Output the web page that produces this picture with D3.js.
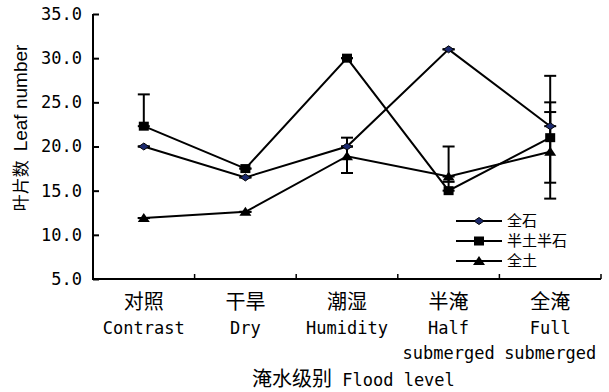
<!DOCTYPE html>
<html>
<head>
<meta charset="utf-8">
<script src="https://cdn.jsdelivr.net/npm/d3@7"></script>
<style>
  body { margin: 0; background: #fff; }
</style>
</head>
<body>
<div id="viz"></div>
<script>
// data
var categories = ['对照', '干旱', '潮湿', '半淹', '全淹'];
var categoriesEn = [['Contrast'], ['Dry'], ['Humidity'], ['Half', 'submerged'], ['Full', 'submerged']];
var seriesNames = ['全石', '半土半石', '全土'];
var quanShi = [20.0, 16.5, 20.0, 31.0, 22.3];
var banTuBanShi = [22.3, 17.5, 30.0, 15.0, 21.0];
var quanTu = [11.9, 12.6, 18.9, 16.6, 19.4];
// error bar ends (null = no bar on that side)
var quanShiHi = [null, null, null, null, 23.9];
var quanShiLo = [null, null, null, null, null];
var banTuBanShiHi = [25.9, null, null, 20.0, 28.0];
var banTuBanShiLo = [null, null, null, null, 14.1];
var quanTuHi = [null, null, 21.0, null, 25.0];
var quanTuLo = [null, null, 17.0, 16.0, 15.9];
var yTicks = [5, 10, 15, 20, 25, 30, 35];

var width = 609, height = 392,
  margin = { top: 14, right: 8, bottom: 113, left: 93 };

var cjk = '"Noto Sans CJK SC", sans-serif',
  mono = '"DejaVu Sans Mono", monospace';

var svg = d3.select('#viz').append('svg')
  .attr('width', width)
  .attr('height', height);

var xScale = d3.scaleBand()
  .domain(categories)
  .range([margin.left, width - margin.right]);

var yScale = d3.scaleLinear()
  .domain([5, 35])
  .range([height - margin.bottom, margin.top]);

var xc = function(i) { return xScale(categories[i]) + xScale.bandwidth() / 2; };

// y axis
var yAxis = d3.axisLeft(yScale)
  .tickValues(yTicks)
  .tickSize(-6)
  .tickPadding(11)
  .tickFormat(d3.format('.1f'));

var yGuide = svg.append('g')
  .attr('transform', 'translate(' + margin.left + ',0)')
  .call(yAxis);
yGuide.select('.domain').attr('stroke-width', 2).attr('d',
  'M0,' + yScale(35) + 'V' + yScale(5));
yGuide.selectAll('.tick line').attr('stroke-width', 2);
yGuide.selectAll('.tick text')
  .style('font-family', mono)
  .style('font-size', '17px')
  .attr('fill', '#000');

// x axis
var y0 = yScale(5);
svg.append('line')
  .attr('x1', margin.left - 1).attr('x2', width - margin.right)
  .attr('y1', y0).attr('y2', y0)
  .attr('stroke', '#000').attr('stroke-width', 2);
svg.selectAll('.xtick').data(categories).enter().append('line')
  .attr('class', 'xtick')
  .attr('x1', function(d) { return xScale(d) + xScale.bandwidth(); })
  .attr('x2', function(d) { return xScale(d) + xScale.bandwidth(); })
  .attr('y1', y0).attr('y2', y0 - 5)
  .attr('stroke', '#000').attr('stroke-width', 1.5);

svg.selectAll('.xcn').data(categories).enter().append('text')
  .attr('class', 'xcn')
  .attr('x', function(d, i) { return xc(i); })
  .attr('y', 309)
  .attr('text-anchor', 'middle')
  .style('font-family', cjk)
  .style('font-size', '20px')
  .text(function(d) { return d; });

categoriesEn.forEach(function(lines, i) {
  lines.forEach(function(t, j) {
    svg.append('text')
      .attr('x', xc(i))
      .attr('y', 334 + j * 25)
      .attr('text-anchor', 'middle')
      .style('font-family', mono)
      .style('font-size', '17px')
      .text(t);
  });
});

// axis titles
var xTitle = svg.append('text')
  .attr('x', 252).attr('y', 386);
xTitle.append('tspan').style('font-family', cjk).style('font-size', '20px').text('淹水级别');
xTitle.append('tspan').style('font-family', mono).style('font-size', '17px').text(' Flood level');

var yTitle = svg.append('text')
  .attr('transform', 'translate(27,128) rotate(-90)')
  .attr('text-anchor', 'middle');
yTitle.append('tspan').style('font-family', cjk).style('font-size', '17px').text('叶片数');
yTitle.append('tspan').attr('dx', 9).style('font-family', '"Liberation Sans", Arial, sans-serif').style('font-size', '19px').text('Leaf  number');

// series
var series = [
  { name: seriesNames[0], values: quanShi, hi: quanShiHi, lo: quanShiLo, marker: 'diamond' },
  { name: seriesNames[1], values: banTuBanShi, hi: banTuBanShiHi, lo: banTuBanShiLo, marker: 'square' },
  { name: seriesNames[2], values: quanTu, hi: quanTuHi, lo: quanTuLo, marker: 'triangle' }
];

var line = d3.line()
  .x(function(d, i) { return xc(i); })
  .y(function(d) { return yScale(d); });

function drawMarker(g, type, x, y) {
  if (type === 'diamond') {
    g.append('path')
      .attr('d', 'M' + (x - 5) + ',' + y + 'L' + x + ',' + (y - 3.5) + 'L' + (x + 5) + ',' + y + 'L' + x + ',' + (y + 3.5) + 'Z')
      .attr('fill', '#1c2a6e').attr('stroke', '#000').attr('stroke-width', 1);
  } else if (type === 'square') {
    g.append('rect')
      .attr('x', x - 5).attr('y', y - 4.5)
      .attr('width', 10).attr('height', 9)
      .attr('fill', '#000');
  } else {
    g.append('path')
      .attr('d', 'M' + (x - 6) + ',' + (y + 4) + 'L' + x + ',' + (y - 5) + 'L' + (x + 6) + ',' + (y + 4) + 'Z')
      .attr('fill', '#000');
  }
}

series.forEach(function(s) {
  svg.append('path')
    .datum(s.values)
    .attr('d', line)
    .attr('fill', 'none')
    .attr('stroke', '#000')
    .attr('stroke-width', 2);
});

series.forEach(function(s) {
  var g = svg.append('g');
  s.values.forEach(function(v, i) {
    var top = s.hi[i] != null ? s.hi[i] : v;
    var bot = s.lo[i] != null ? s.lo[i] : v;
    var x = xc(i);
    g.append('line')
      .attr('x1', x).attr('x2', x)
      .attr('y1', yScale(top)).attr('y2', yScale(bot))
      .attr('stroke', '#000').attr('stroke-width', 2);
    [top, bot].forEach(function(e) {
      g.append('line')
        .attr('x1', x - 6).attr('x2', x + 6)
        .attr('y1', yScale(e)).attr('y2', yScale(e))
        .attr('stroke', '#000').attr('stroke-width', 2);
    });
  });
});

series.forEach(function(s) {
  var g = svg.append('g');
  s.values.forEach(function(v, i) {
    drawMarker(g, s.marker, xc(i), yScale(v));
  });
});

// legend
var legend = svg.append('g');
series.forEach(function(s, i) {
  var ly = 221 + i * 20;
  legend.append('line')
    .attr('x1', 456).attr('x2', 502)
    .attr('y1', ly).attr('y2', ly)
    .attr('stroke', '#000').attr('stroke-width', 2);
  drawMarker(legend, s.marker, 479, ly);
  legend.append('text')
    .attr('x', 507).attr('y', ly + 5)
    .style('font-family', cjk)
    .style('font-size', '15px')
    .text(s.name);
});
</script>
</body>
</html>
